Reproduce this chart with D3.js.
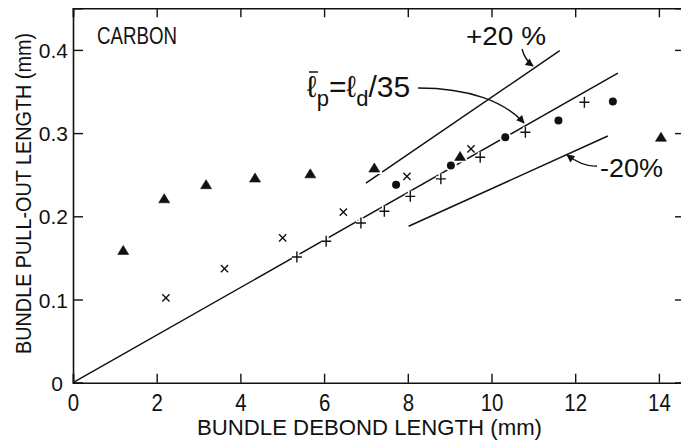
<!DOCTYPE html>
<html>
<head>
<meta charset="utf-8">
<script src="https://cdn.jsdelivr.net/npm/d3@7"></script>
<style>
  body { margin: 0; background: #fff; }
  svg text { font-family: "Liberation Sans", Arial, sans-serif; fill: #111; }
</style>
</head>
<body>
<svg id="plotCanvas" width="681" height="441"></svg>
<script>
// tick values
var xTicks = [0, 2, 4, 6, 8, 10, 12, 14]
var yTicks = [0, 0.1, 0.2, 0.3, 0.4]

// filled triangles
var triX = [1.20, 2.18, 3.18, 4.35, 5.67, 7.20, 9.25, 14.05]
var triY = [0.159, 0.221, 0.238, 0.246, 0.251, 0.258, 0.272, 0.295]
// crosses (x)
var crossX = [2.22, 3.62, 5.01, 6.46, 7.98, 9.51]
var crossY = [0.102, 0.137, 0.174, 0.205, 0.248, 0.281]
// plus signs
var plusX = [5.35, 6.05, 6.88, 7.44, 8.06, 8.79, 9.73, 10.81, 12.22]
var plusY = [0.151, 0.170, 0.192, 0.206, 0.224, 0.245, 0.271, 0.301, 0.337]
// filled circles
var dotX = [7.72, 9.03, 10.33, 11.60, 12.90]
var dotY = [0.238, 0.261, 0.295, 0.315, 0.338]

// reference lines (end points)
var fitX = [0, 13.02], fitY = [0, 0.372]
var upX = [7.00, 11.63], upY = [0.240, 0.399]
var loX = [8.02, 12.78], loY = [0.188, 0.2965]

var svg = d3.select("#plotCanvas")
var pLeft = 73, pRight = 684, pTop = 8.3, pBottom = 382.7

var xScale = d3.scaleLinear().domain([0, 14.6]).range([pLeft, pRight])
var yScale = d3.scaleLinear().domain([0, 0.45]).range([pBottom, pTop])

// marker arrowhead
svg.append("defs").append("marker")
   .attr("id", "arrow")
   .attr("viewBox", "0 0 10 10")
   .attr("refX", 9).attr("refY", 5)
   .attr("markerWidth", 11).attr("markerHeight", 8)
   .attr("markerUnits", "userSpaceOnUse")
   .attr("orient", "auto")
   .append("path").attr("d", "M0,0 L10,5 L0,10 Z").attr("fill", "#111")

// frame axes, ticks point inward
var axB = svg.append("g").attr("transform", "translate(0," + pBottom + ")")
   .call(d3.axisBottom(xScale).tickValues(xTicks).tickSize(-9).tickPadding(11))
var axT = svg.append("g").attr("transform", "translate(0," + pTop + ")")
   .call(d3.axisTop(xScale).tickValues(xTicks).tickSize(-9).tickFormat(""))
var axL = svg.append("g").attr("transform", "translate(" + pLeft + ",0)")
   .call(d3.axisLeft(yScale).tickValues(yTicks).tickSize(-10).tickPadding(5)
      .tickFormat(function(d){ return d === 0 ? "0" : d.toFixed(1) }))
var axR = svg.append("g").attr("transform", "translate(" + pRight + ",0)")
   .call(d3.axisRight(yScale).tickValues(yTicks).tickSize(-9).tickFormat(""))

svg.selectAll(".domain").attr("stroke", "#111").attr("stroke-width", 1.6)
svg.selectAll(".tick line").attr("stroke", "#111").attr("stroke-width", 1.4)
// x labels: slightly narrowed digits, still centred on the tick
axB.selectAll(".tick text").attr("font-size", 24).attr("fill", "#111")
   .attr("transform", "scale(0.85,1)")
axL.selectAll("text").attr("font-size", 21).attr("fill", "#111")
   .attr("dy", "0.36em")
axL.selectAll(".tick").filter(function(d){ return d === 0 })
   .select("text").attr("x", -10)

// axis titles
svg.append("text")
   .attr("x", 197).attr("y", 435)
   .attr("font-size", 22)
   .attr("textLength", 345).attr("lengthAdjust", "spacingAndGlyphs")
   .text("BUNDLE DEBOND LENGTH (mm)")
svg.append("text")
   .attr("transform", "translate(31,354) rotate(-90) scale(1,1.1)")
   .attr("font-size", 19.6)
   .attr("textLength", 321).attr("lengthAdjust", "spacingAndGlyphs")
   .text("BUNDLE PULL-OUT LENGTH (mm)")

svg.append("text")
   .attr("x", 97).attr("y", 43.5)
   .attr("font-size", 23)
   .attr("textLength", 80).attr("lengthAdjust", "spacingAndGlyphs")
   .text("CARBON")

// reference lines
function seg(xs, ys){
   svg.append("line")
      .attr("x1", xScale(xs[0])).attr("y1", yScale(ys[0]))
      .attr("x2", xScale(xs[1])).attr("y2", yScale(ys[1]))
      .attr("stroke", "#111").attr("stroke-width", 1.5)
}
seg(fitX, fitY)
seg(upX, upY)
seg(loX, loY)

// markers, each drawn twice: white halo underneath, black on top
function pts(xs, ys){ return xs.map(function(v, i){ return [v, ys[i]] }) }

var triPath = "M0,-5 L5.5,4 L-5.5,4 Z"
var crossPath = "M-3.6,-3.6 L3.6,3.6 M-3.6,3.6 L3.6,-3.6"
var plusPath = "M-5,0 L5,0 M0,-5.5 L0,5.5"

function drawMarks(data, d, filled, halo){
   var g = svg.append("g")
   g.selectAll("path.h").data(data).enter().append("path")
      .attr("class", "h").attr("d", d)
      .attr("transform", function(p){ return "translate(" + xScale(p[0]) + "," + yScale(p[1]) + ")" })
      .attr("fill", filled ? "#fff" : "none")
      .attr("stroke", "#fff").attr("stroke-width", halo)
   g.selectAll("path.m").data(data).enter().append("path")
      .attr("class", "m").attr("d", d)
      .attr("transform", function(p){ return "translate(" + xScale(p[0]) + "," + yScale(p[1]) + ")" })
      .attr("fill", filled ? "#111" : "none")
      .attr("stroke", "#111").attr("stroke-width", filled ? 0.6 : 1.4)
}
drawMarks(pts(triX, triY), triPath, true, 4)
drawMarks(pts(crossX, crossY), crossPath, false, 5)
drawMarks(pts(plusX, plusY), plusPath, false, 5)

var dg = svg.append("g")
dg.selectAll("circle.h").data(pts(dotX, dotY)).enter().append("circle")
   .attr("class", "h")
   .attr("cx", function(p){ return xScale(p[0]) }).attr("cy", function(p){ return yScale(p[1]) })
   .attr("r", 6).attr("fill", "#fff")
dg.selectAll("circle.m").data(pts(dotX, dotY)).enter().append("circle")
   .attr("class", "m")
   .attr("cx", function(p){ return xScale(p[0]) }).attr("cy", function(p){ return yScale(p[1]) })
   .attr("r", 4).attr("fill", "#111")

// annotations
svg.append("text")
   .attr("x", 466).attr("y", 45)
   .attr("font-size", 25)
   .attr("textLength", 80).attr("lengthAdjust", "spacingAndGlyphs")
   .text("+20 %")
svg.append("path")
   .attr("d", "M522,49 Q525,60 533,66")
   .attr("fill", "none").attr("stroke", "#111").attr("stroke-width", 1.4)
   .attr("marker-end", "url(#arrow)")

var eq = svg.append("text")
   .attr("x", 307).attr("y", 97)
   .attr("font-size", 30)
eq.append("tspan").text("\u2113")
eq.append("tspan").attr("font-size", 22).attr("dy", 9).text("p")
eq.append("tspan").attr("dy", -9).text("=\u2113")
eq.append("tspan").attr("font-size", 22).attr("dy", 9).text("d")
eq.append("tspan").attr("dy", -9).text("/35")
// bar over the first l
svg.append("line")
   .attr("x1", 309).attr("x2", 318).attr("y1", 72).attr("y2", 72)
   .attr("stroke", "#111").attr("stroke-width", 1.5)
svg.append("path")
   .attr("d", "M418,88 C470,88 505,102 524,123")
   .attr("fill", "none").attr("stroke", "#111").attr("stroke-width", 1.4)
   .attr("marker-end", "url(#arrow)")

svg.append("text")
   .attr("x", 600).attr("y", 177)
   .attr("font-size", 25)
   .attr("textLength", 63).attr("lengthAdjust", "spacingAndGlyphs")
   .text("-20%")
svg.append("path")
   .attr("d", "M597,166 Q583,167 567,155")
   .attr("fill", "none").attr("stroke", "#111").attr("stroke-width", 1.4)
   .attr("marker-end", "url(#arrow)")
</script>
</body>
</html>
